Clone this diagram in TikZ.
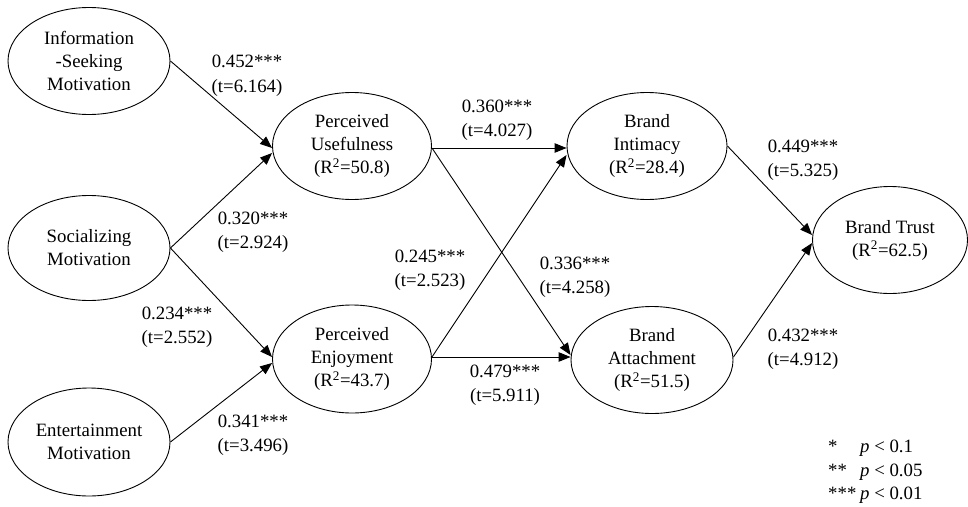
\documentclass[tikz,border=0pt]{standalone}
\usepackage{fontspec}
\setmainfont{Liberation Serif}
\usetikzlibrary{shapes.geometric,arrows.meta}
\begin{document}
\begin{tikzpicture}[x=1pt,y=-1pt,
  construct/.style={ellipse,draw,line width=0.9pt,inner sep=0pt,align=center,font=\fontsize{18.8}{23}\selectfont},
  coef/.style={align=center,font=\fontsize{18.8}{24.5}\selectfont,inner sep=0pt},
  link/.style={line width=0.9pt,-{Triangle[length=12pt,width=9.5pt]}}]
\useasboundingbox (0,0) rectangle (968,506);
% constructs
\node[construct,minimum width=162pt,minimum height=107pt] (info) at (89,61) {Information\\-Seeking\\Motivation};
\node[construct,minimum width=162pt,minimum height=105pt] (soc) at (89,248) {Socializing\\Motivation};
\node[construct,minimum width=162pt,minimum height=108pt] (ent) at (89,442) {Entertainment\\Motivation};
\node[construct,minimum width=159pt,minimum height=107pt] (pu) at (352,146) {Perceived\\Usefulness\\(R\textsuperscript{2}=50.8)};
\node[construct,minimum width=159pt,minimum height=108pt] (pe) at (352,359) {Perceived\\Enjoyment\\(R\textsuperscript{2}=43.7)};
\node[construct,minimum width=160pt,minimum height=107pt] (bi) at (647,146) {Brand\\Intimacy\\(R\textsuperscript{2}=28.4)};
\node[construct,minimum width=162pt,minimum height=107pt] (ba) at (652,360) {Brand\\Attachment\\(R\textsuperscript{2}=51.5)};
\node[construct,minimum width=155pt,minimum height=107pt] (bt) at (890,240) {Brand Trust\\(R\textsuperscript{2}=62.5)};
% paths
\draw[link] (info.east) -- ([yshift=-2pt]pu.west);
\draw[link] (soc.east) -- ([yshift=-7pt]pu.west);
\draw[link] (soc.east) -- ([yshift=2pt]pe.west);
\draw[link] (ent.east) -- ([yshift=-4pt]pe.west);
\draw[link] ([yshift=-2pt]pu.east) -- ([yshift=-2pt]bi.west);
\draw[link] ([yshift=-2pt]pu.east) -- ([yshift=5pt]ba.west);
\draw[link] ([yshift=2pt]pe.east) -- ([yshift=-9pt]bi.west);
\draw[link] ([yshift=2pt]pe.east) -- ([yshift=3pt]ba.west);
\draw[link] (bi.east) -- ([yshift=5pt]bt.west);
\draw[link] ([yshift=3pt]ba.east) -- ([yshift=-3pt]bt.west);
% coefficients
\node[coef] (c1) at (247,75.5) {0.452***\\(t=6.164)};
\node[coef] (c2) at (253,232) {0.320***\\(t=2.924)};
\node[coef] (c3) at (177,327) {0.234***\\(t=2.552)};
\node[coef] (c4) at (253,435) {0.341***\\(t=3.496)};
\node[coef] (c5) at (497,120) {0.360***\\(t=4.027)};
\node[coef] (c6) at (430,270) {0.245***\\(t=2.523)};
\node[coef] (c7) at (575,277) {0.336***\\(t=4.258)};
\node[coef] (c8) at (505,385) {0.479***\\(t=5.911)};
\node[coef] (c9) at (803,160) {0.449***\\(t=5.325)};
\node[coef] (c10) at (803,349) {0.432***\\(t=4.912)};
% legend
\node[anchor=west,align=left,inner sep=0pt,font=\fontsize{18.8}{23.5}\selectfont] (legend) at (828,472)
  {\makebox[32pt][l]{*}\textit{p} < 0.1\\\makebox[32pt][l]{**}\textit{p} < 0.05\\\makebox[32pt][l]{***}\textit{p} < 0.01};
\end{tikzpicture}
\end{document}
